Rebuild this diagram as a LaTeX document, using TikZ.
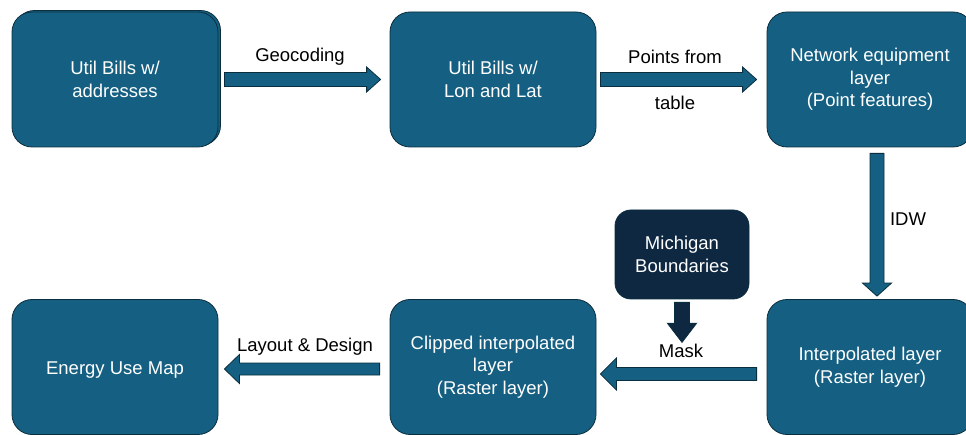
\documentclass[tikz,border=0pt]{standalone}
\usepackage{fontspec}
\setmainfont{Liberation Sans}
\usetikzlibrary{calc}
\definecolor{boxblue}{HTML}{156082}
\definecolor{boxnavy}{HTML}{0E2841}
\definecolor{edgecol}{HTML}{0B2E3E}
\tikzset{
  flowbox/.style={draw=edgecol, line width=0.8pt, fill=boxblue, rounded corners=20pt,
    minimum width=206pt, minimum height=135pt, text=white, align=center,
    font=\fontsize{18.5}{22.5}\selectfont, inner sep=0pt,
    execute at begin node={\rule{0pt}{18.5pt}}},
  darkbox/.style={flowbox, fill=boxnavy, minimum width=134pt, minimum height=89pt, rounded corners=16pt},
  lbl/.style={font=\fontsize{18.5}{22.5}\selectfont, text=black, inner sep=0pt},
  fatarrow/.style={draw=edgecol, line width=0.8pt, fill=boxblue, line join=miter},
}
% #2 start, #3 end, #4 shaft half width, #5 head half width, #6 head length
\newcommand\fatarrow[6][]{%
  \coordinate (fah) at ($(#3)!#6!(#2)$);
  \draw[fatarrow,#1] ($(#2)!#4!90:(#3)$) -- ($(fah)!#4!-90:(#2)$) -- ($(fah)!#5!-90:(#2)$)
    -- (#3) -- ($(fah)!#5!90:(#2)$) -- ($(fah)!#4!90:(#2)$) -- ($(#2)!#4!-90:(#3)$) -- cycle;
}
\begin{document}
\begin{tikzpicture}[x=1pt,y=1pt]
\clip (0,0) rectangle (966,-435);
\fill[white] (0,0) rectangle (966,-435);

% shadow edge of first box
\draw[edgecol, line width=0.8pt, fill=boxblue, rounded corners=20pt] (14.5,-10.5) rectangle (220.5,-145.5);
\node[flowbox] (b1) at (115,-79.5) {Util Bills w/\\addresses};
\node[flowbox] (b2) at (493,-79.5) {Util Bills w/\\Lon and Lat};
\node[flowbox] (b3) at (870,-79.5) {Network equipment\\layer\\(Point features)};
\node[flowbox] (b4) at (870,-367) {Interpolated layer\\(Raster layer)};
\node[flowbox] (b5) at (493,-367) {Clipped interpolated\\layer\\(Raster layer)};
\node[flowbox] (b6) at (115,-367) {Energy Use Map};
\node[darkbox] (mi) at (682,-254.5) {Michigan\\Boundaries};

% arrow end points
\coordinate (g0) at ($(b1.east)+(6,0)$);
\coordinate (g1) at ($(b2.west)+(-9,0)$);
\coordinate (p0) at ($(b2.east)+(4,0)$);
\coordinate (p1) at ($(b3.west)+(-10,0)$);
\coordinate (i0) at ($(b3.south)+(7,-6)$);
\coordinate (i1) at ($(b4.north)+(7,3)$);
\coordinate (m0) at ($(b4.west)+(-10,-7)$);
\coordinate (m1) at ($(b5.east)+(4,-7)$);
\coordinate (k0) at ($(mi.south)+(0,-3)$);
\coordinate (k1) at ($(mi.south)+(0,-43)$);
\coordinate (l0) at ($(b5.west)+(-10,-2)$);
\coordinate (l1) at ($(b6.east)+(6,-2)$);

\fatarrow{g0}{g1}{7pt}{12.5pt}{14pt}
\fatarrow{p0}{p1}{7pt}{12.5pt}{14pt}
\fatarrow{i0}{i1}{7pt}{14.5pt}{13pt}
\fatarrow{m0}{m1}{6.5pt}{16pt}{16pt}
\fatarrow[fill=boxnavy]{k0}{k1}{7.5pt}{14.5pt}{19pt}
\fatarrow{l0}{l1}{6pt}{14.5pt}{15pt}

% labels
\node[lbl] (tg) at (300,-57) {Geocoding};
\node[lbl] (tp1) at (675,-57) {Points from};
\node[lbl] (tp2) at (675,-103) {table};
\node[lbl] (ti) at (908,-219) {IDW};
\node[lbl] (tm) at (681,-351) {Mask};
\node[lbl] (tl) at (305,-347) {Layout \& Design};
\end{tikzpicture}
\end{document}
